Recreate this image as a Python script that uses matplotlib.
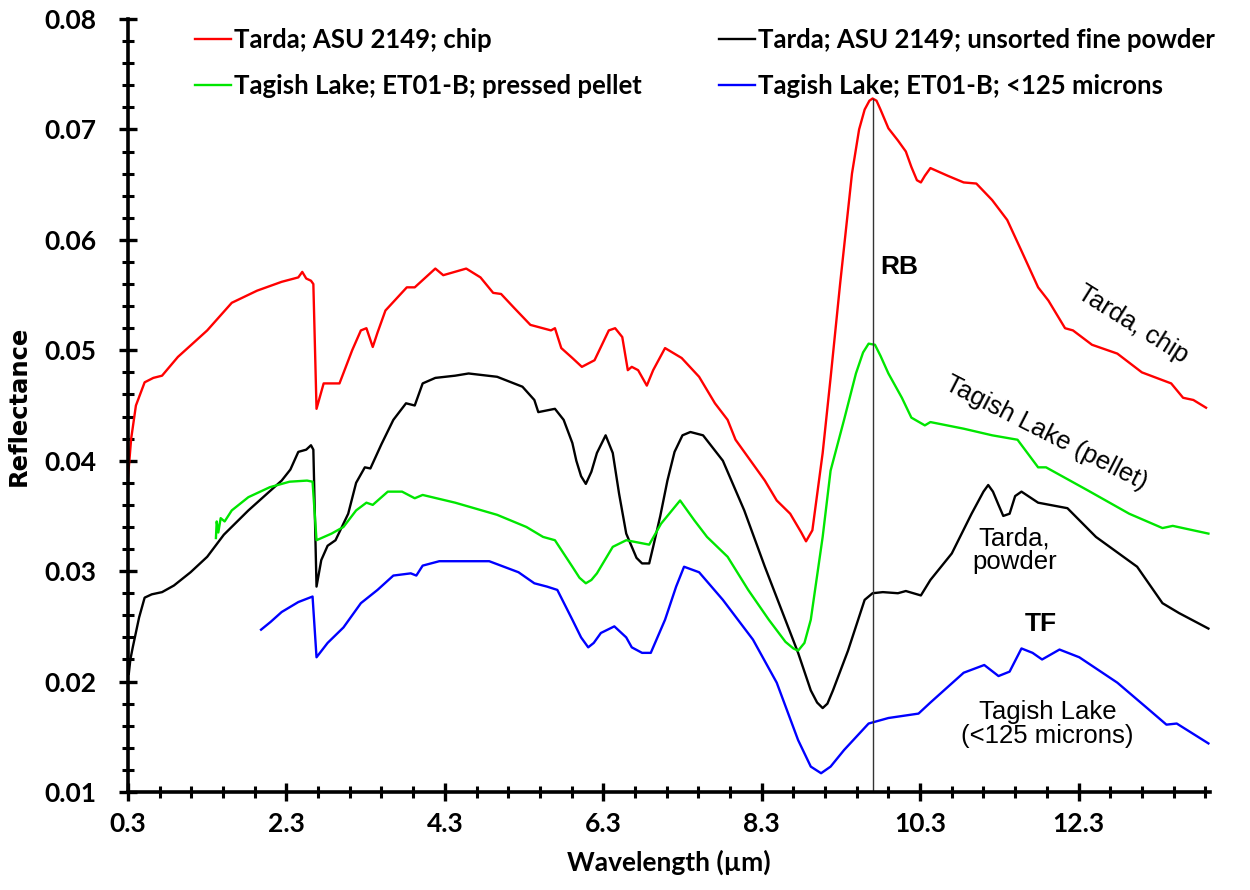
import matplotlib
matplotlib.use("Agg")
import matplotlib.pyplot as plt
from matplotlib.ticker import MultipleLocator, FixedLocator

# --- spectra (wavelength in um, reflectance) ---
chip_x = [0.30, 0.34, 0.40, 0.51, 0.62, 0.73, 0.93, 1.10, 1.30, 1.61, 1.93, 2.24, 2.45, 2.50, 2.55,
          2.61, 2.64, 2.68, 2.77, 2.97, 3.13, 3.24, 3.31, 3.39, 3.45, 3.55, 3.82, 3.92, 4.18, 4.28,
          4.57, 4.75, 4.91, 5.01, 5.18, 5.38, 5.64, 5.69, 5.77, 5.91, 6.03, 6.19, 6.37, 6.45, 6.54,
          6.61, 6.66, 6.74, 6.85, 6.93, 7.08, 7.29, 7.51, 7.71, 7.87, 7.97, 8.34, 8.49, 8.66, 8.80,
          8.86, 8.94, 9.07, 9.17, 9.29, 9.44, 9.53, 9.60, 9.66, 9.70, 9.75, 9.80, 9.90, 10.02, 10.12,
          10.19, 10.26, 10.31, 10.36, 10.43, 10.65, 10.85, 11.01, 11.21, 11.40, 11.58, 11.79, 11.92,
          12.13, 12.23, 12.47, 12.79, 13.10, 13.47, 13.62, 13.75, 13.91]
chip_y = [0.0385, 0.0420, 0.0450, 0.0471, 0.0475, 0.0477, 0.0494, 0.0505, 0.0518, 0.0543, 0.0554,
          0.0562, 0.0566, 0.0571, 0.0565, 0.0563, 0.0560, 0.0447, 0.0470, 0.0470, 0.0500, 0.0518,
          0.0520, 0.0503, 0.0516, 0.0536, 0.0557, 0.0557, 0.0574, 0.0568, 0.0574, 0.0566, 0.0552,
          0.0551, 0.0538, 0.0523, 0.0518, 0.0520, 0.0502, 0.0493, 0.0485, 0.0491, 0.0518, 0.0520,
          0.0512, 0.0482, 0.0485, 0.0482, 0.0468, 0.0482, 0.0502, 0.0493, 0.0476, 0.0452, 0.0437,
          0.0419, 0.0382, 0.0364, 0.0352, 0.0335, 0.0327, 0.0337, 0.0407, 0.0475, 0.0560, 0.0660,
          0.0700, 0.0718, 0.0726, 0.0728, 0.0726, 0.0718, 0.0701, 0.0690, 0.0680, 0.0666, 0.0654,
          0.0652, 0.0658, 0.0665, 0.0658, 0.0652, 0.0651, 0.0636, 0.0618, 0.0590, 0.0557, 0.0545,
          0.0520, 0.0518, 0.0505, 0.0497, 0.0480, 0.0470, 0.0457, 0.0455, 0.0448]

powder_x = [0.31, 0.33, 0.36, 0.44, 0.51, 0.60, 0.73, 0.88, 1.09, 1.30, 1.51, 1.82, 2.24, 2.35, 2.45,
            2.55, 2.61, 2.64, 2.68, 2.74, 2.82, 2.92, 3.08, 3.18, 3.29, 3.36, 3.50, 3.65, 3.81, 3.92,
            4.02, 4.18, 4.43, 4.60, 4.96, 5.28, 5.43, 5.48, 5.69, 5.80, 5.91, 5.96, 6.02, 6.08, 6.15,
            6.22, 6.33, 6.42, 6.50, 6.59, 6.72, 6.79, 6.88, 6.93, 7.02, 7.11, 7.20, 7.30, 7.40, 7.56,
            7.81, 8.08, 8.34, 8.55, 8.76, 8.92, 9.00, 9.07, 9.13, 9.20, 9.39, 9.60, 9.70, 9.83, 10.02,
            10.12, 10.31, 10.43, 10.70, 10.95, 11.10, 11.16, 11.22, 11.29, 11.35, 11.43, 11.50,
            11.58, 11.79, 12.16, 12.52, 13.04, 13.36, 13.57, 13.94]
powder_y = [0.0207, 0.0220, 0.0231, 0.0258, 0.0276, 0.0279, 0.0281, 0.0287, 0.0299, 0.0313, 0.0333,
            0.0355, 0.0382, 0.0392, 0.0408, 0.0410, 0.0414, 0.0410, 0.0286, 0.0310, 0.0323, 0.0328,
            0.0352, 0.0380, 0.0394, 0.0393, 0.0415, 0.0437, 0.0452, 0.0450, 0.0470, 0.0475, 0.0477,
            0.0479, 0.0476, 0.0467, 0.0455, 0.0444, 0.0447, 0.0437, 0.0416, 0.0400, 0.0386, 0.0379,
            0.0390, 0.0407, 0.0423, 0.0407, 0.0370, 0.0334, 0.0312, 0.0307, 0.0307, 0.0322, 0.0350,
            0.0382, 0.0408, 0.0423, 0.0426, 0.0423, 0.0400, 0.0355, 0.0304, 0.0265, 0.0226, 0.0192,
            0.0181, 0.0176, 0.0180, 0.0192, 0.0228, 0.0274, 0.0280, 0.0281, 0.0280, 0.0282, 0.0278,
            0.0292, 0.0316, 0.0352, 0.0372, 0.0378, 0.0372, 0.0360, 0.0350, 0.0352, 0.0368, 0.0372,
            0.0362, 0.0357, 0.0331, 0.0304, 0.0271, 0.0262, 0.0248]

pellet_x = [1.41, 1.42, 1.44, 1.47, 1.52, 1.61, 1.82, 2.09, 2.34, 2.56, 2.63, 2.68, 2.87, 3.02, 3.18,
            3.31, 3.39, 3.58, 3.76, 3.92, 4.02, 4.43, 4.96, 5.33, 5.54, 5.69, 5.91, 6.00, 6.08, 6.15,
            6.22, 6.42, 6.59, 6.88, 7.03, 7.27, 7.45, 7.61, 7.87, 8.13, 8.39, 8.60, 8.70, 8.76, 8.84,
            8.92, 9.07, 9.17, 9.34, 9.49, 9.58, 9.65, 9.73, 9.80, 9.90, 10.07, 10.19, 10.36, 10.43,
            10.85, 11.21, 11.53, 11.79, 11.89, 12.42, 12.94, 13.36, 13.49, 13.94]
pellet_y = [0.0330, 0.0345, 0.0335, 0.0348, 0.0345, 0.0355, 0.0367, 0.0376, 0.0381, 0.0382, 0.0381,
            0.0328, 0.0334, 0.0340, 0.0355, 0.0362, 0.0360, 0.0372, 0.0372, 0.0366, 0.0369, 0.0362,
            0.0351, 0.0340, 0.0331, 0.0328, 0.0304, 0.0294, 0.0289, 0.0292, 0.0298, 0.0322, 0.0328,
            0.0324, 0.0343, 0.0364, 0.0346, 0.0331, 0.0313, 0.0283, 0.0256, 0.0236, 0.0230, 0.0228,
            0.0235, 0.0256, 0.0331, 0.0391, 0.0437, 0.0479, 0.0498, 0.0506, 0.0505, 0.0495, 0.0479,
            0.0457, 0.0439, 0.0432, 0.0435, 0.0429, 0.0423, 0.0419, 0.0394, 0.0394, 0.0373, 0.0352,
            0.0339, 0.0341, 0.0334]

fine_x = [1.98, 2.10, 2.24, 2.45, 2.63, 2.68, 2.82, 3.02, 3.24, 3.45, 3.65, 3.87, 3.94, 4.02, 4.23,
          4.86, 5.23, 5.43, 5.59, 5.72, 5.91, 6.02, 6.11, 6.18, 6.27, 6.44, 6.59, 6.66, 6.79, 6.90,
          7.08, 7.22, 7.32, 7.51, 7.81, 8.19, 8.49, 8.76, 8.92, 9.05, 9.17, 9.34, 9.65, 9.90, 10.28,
          10.43, 10.85, 11.11, 11.29, 11.43, 11.58, 11.72, 11.84, 12.06, 12.31, 12.79, 13.15, 13.41,
          13.54, 13.94]
fine_y = [0.0247, 0.0254, 0.0263, 0.0272, 0.0277, 0.0222, 0.0235, 0.0249, 0.0271, 0.0283, 0.0296,
          0.0298, 0.0296, 0.0305, 0.0309, 0.0309, 0.0299, 0.0289, 0.0286, 0.0283, 0.0256, 0.0240,
          0.0231, 0.0235, 0.0244, 0.0250, 0.0240, 0.0231, 0.0226, 0.0226, 0.0256, 0.0286, 0.0304,
          0.0299, 0.0274, 0.0238, 0.0199, 0.0147, 0.0123, 0.0117, 0.0123, 0.0138, 0.0162, 0.0167,
          0.0171, 0.0181, 0.0208, 0.0215, 0.0205, 0.0209, 0.0230, 0.0226, 0.0220, 0.0229, 0.0222,
          0.0199, 0.0177, 0.0161, 0.0162, 0.0144]

labels = ["Tarda; ASU 2149; chip", "Tagish Lake; ET01-B; pressed pellet",
          "Tarda; ASU 2149; unsorted fine powder", "Tagish Lake; ET01-B; <125 microns"]
xticks = [0.3, 2.3, 4.3, 6.3, 8.3, 10.3, 12.3]
yticks = [0.01, 0.02, 0.03, 0.04, 0.05, 0.06, 0.07, 0.08]
rb_x = 9.70
rb_top = 0.0728

plt.rcParams['font.family'] = ['Lato', 'DejaVu Sans']

fig = plt.figure(figsize=(12.5, 8.9), dpi=100)
ax = fig.add_axes([128/1250, 98/890, 1082/1250, 773/890])

lw = 1.7
l_chip, = ax.plot(chip_x, chip_y, color='#ff0000', lw=lw)
l_pow, = ax.plot(powder_x, powder_y, color='black', lw=lw)
l_pel, = ax.plot(pellet_x, pellet_y, color='#00e600', lw=lw)
l_fine, = ax.plot(fine_x, fine_y, color='#0000ff', lw=lw)

# RB marker line
ax.plot([rb_x, rb_x], [0.01, rb_top], color='#333333', lw=1.0)

ax.set_xlim(0.3, 13.96)
ax.set_ylim(0.01, 0.08)
ax.xaxis.set_major_locator(FixedLocator(xticks))
ax.xaxis.set_minor_locator(MultipleLocator(0.4, offset=0.3))
ax.yaxis.set_major_locator(FixedLocator(yticks))
ax.yaxis.set_minor_locator(MultipleLocator(0.002))
ax.set_xticklabels([f"{v:.1f}" for v in xticks])
ax.set_yticklabels([f"{v:.2f}" for v in yticks])

for s in ['top', 'right']:
    ax.spines[s].set_visible(False)
for s in ['left', 'bottom']:
    ax.spines[s].set_linewidth(2.6)
ax.tick_params(which='major', direction='inout', length=13, width=2.4, labelsize=19)
ax.tick_params(axis='y', which='major', pad=16)
ax.tick_params(axis='x', which='major', pad=8)
ax.tick_params(which='minor', direction='inout', length=9, width=2.2)
for t in ax.get_xticklabels() + ax.get_yticklabels():
    t.set_fontweight('bold')

ax.set_xlabel("Wavelength (µm)", fontsize=19, fontweight='bold', labelpad=10)
ax.set_ylabel("Reflectance", fontsize=17.5, fontweight='bold', family=['DejaVu Sans'], labelpad=10)

# legend in two columns, no frame
legkw = dict(loc='upper left', frameon=False, handlelength=1.4, handletextpad=0.1,
             labelspacing=0.85, borderpad=0, borderaxespad=0,
             prop={'weight': 'bold', 'size': 18.5})
leg1 = ax.legend([l_chip, l_pel], labels[:2], bbox_to_anchor=((195-128)/1082, (792-28)/773), **legkw)
ax.add_artist(leg1)
ax.legend([l_pow, l_fine], labels[2:], bbox_to_anchor=((719-128)/1082, (792-28)/773), **legkw)

afont = ['Liberation Sans', 'DejaVu Sans']
ax.text(9.80, 0.0575, "RB", fontsize=19, fontweight='bold', family=afont, ha='left', va='center')
ax.text(11.83, 0.0252, "TF", fontsize=19, fontweight='bold', family=afont, ha='center', va='center')
ax.text(12.98, 0.0524, "Tarda, chip", fontsize=18.5, family=afont, rotation=-32,
        ha='center', va='center', rotation_mode='anchor')
ax.text(11.89, 0.0425, "Tagish Lake (pellet)", fontsize=18.5, family=afont, rotation=-27,
        ha='center', va='center', rotation_mode='anchor')
ax.text(11.49, 0.0319, "Tarda,\npowder", fontsize=18.5, family=afont, ha='center', va='center',
        linespacing=1.0)
ax.text(11.91, 0.0162, "Tagish Lake\n(<125 microns)", fontsize=18.5, family=afont, ha='center',
        va='center', linespacing=1.0)

fig.savefig("out.png", dpi=100)
